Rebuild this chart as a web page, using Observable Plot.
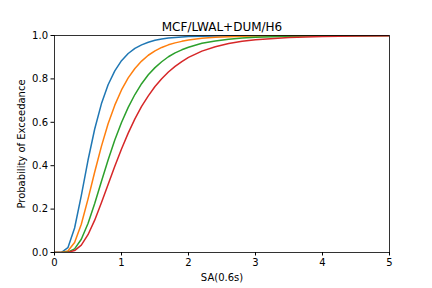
<!DOCTYPE html>
<html>
<head>
<meta charset="utf-8">
<script src="https://cdn.jsdelivr.net/npm/d3@7"></script>
<script src="https://cdn.jsdelivr.net/npm/@observablehq/plot@0.6"></script>
<style>
  html, body { margin: 0; padding: 0; background: #fff; }
  svg { font-family: "DejaVu Sans", sans-serif; }
</style>
</head>
<body>
<div id="chart"></div>
<script>
const titleText = "MCF/LWAL+DUM/H6";
const xLabel = "SA(0.6s)";
const yLabel = "Probability of Exceedance";
const xTicks = [0, 1, 2, 3, 4, 5];
const yTicks = [0, 0.2, 0.4, 0.6, 0.8, 1.0];

const sa = [0,0.1,0.2,0.3,0.4,0.5,0.6,0.7,0.8,0.9,1.0,1.1,1.2,1.3,1.4,1.5,1.6,1.7,1.8,1.9,2.0,2.2,2.4,2.6,2.8,3.0,3.5,4.0,4.5,5.0];
const curve1 = [0,0,0.022,0.113,0.262,0.425,0.569,0.685,0.773,0.837,0.884,0.917,0.941,0.957,0.969,0.978,0.984,0.988,0.991,0.993,0.995,0.997,0.998,0.999,0.9995,1.0,1,1,1,1];
const curve2 = [0,0,0.007,0.046,0.130,0.246,0.371,0.489,0.593,0.679,0.749,0.805,0.848,0.882,0.909,0.929,0.945,0.957,0.966,0.973,0.979,0.987,0.992,0.9945,0.996,0.998,0.999,1,1,1];
const curve3 = [0,0,0.002,0.017,0.061,0.134,0.226,0.327,0.426,0.518,0.599,0.669,0.728,0.778,0.819,0.852,0.879,0.902,0.920,0.934,0.946,0.964,0.975,0.983,0.988,0.992,0.9966,0.9985,0.9994,1.0];
const curve4 = [0,0,0.001,0.009,0.034,0.082,0.149,0.229,0.313,0.397,0.477,0.550,0.616,0.673,0.722,0.765,0.801,0.832,0.858,0.880,0.899,0.928,0.948,0.963,0.973,0.980,0.991,0.9955,0.998,0.999];

const seriesNames = ["c1", "c2", "c3", "c4"];
const seriesValues = [curve1, curve2, curve3, curve4];
const colors = ["#1f77b4", "#ff7f0e", "#2ca02c", "#d62728"];

const rows = [];
seriesNames.forEach((name, i) => {
  seriesValues[i].forEach((v, j) => rows.push({series: name, x: sa[j], y: v}));
});

const chart = Plot.plot({
  width: 432,
  height: 288,
  marginLeft: 54,
  marginRight: 43,
  marginTop: 35,
  marginBottom: 36,
  style: {fontFamily: "DejaVu Sans, sans-serif", fontSize: "10px", color: "#000", background: "#fff"},
  x: {domain: [0, 5], ticks: xTicks, tickFormat: d3.format("d"), label: null},
  y: {domain: [0, 1], ticks: yTicks, tickFormat: d3.format(".1f"), label: null},
  color: {domain: seriesNames, range: colors},
  marks: [
    Plot.line(rows, {x: "x", y: "y", z: "series", stroke: "series", strokeWidth: 1.5, clip: true}),
    Plot.frame({stroke: "#000", strokeWidth: 0.8}),
    Plot.axisX({ticks: xTicks, tickFormat: d3.format("d"), tickSize: 3.5, tickPadding: 3, stroke: "#000", label: null, fontSize: 10}),
    Plot.axisY({ticks: yTicks, tickFormat: d3.format(".1f"), tickSize: 3.5, tickPadding: 3, stroke: "#000", label: null, fontSize: 10}),
    Plot.text([titleText], {frameAnchor: "top", lineAnchor: "bottom", dy: -5, fontSize: 12, fill: "#000"}),
    Plot.text([xLabel], {frameAnchor: "bottom", lineAnchor: "middle", dy: 25, fontSize: 10, fill: "#000"}),
    Plot.text([yLabel], {frameAnchor: "left", textAnchor: "middle", lineAnchor: "middle", dx: -33, rotate: -90, fontSize: 10, fill: "#000"})
  ]
});
document.getElementById("chart").appendChild(chart);
</script>
</body>
</html>
